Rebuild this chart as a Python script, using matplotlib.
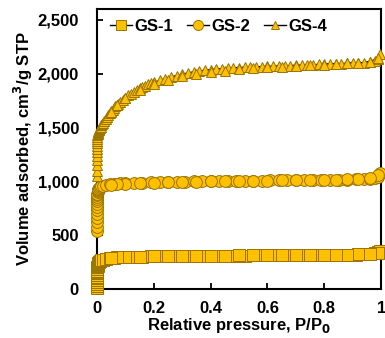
import matplotlib
matplotlib.use("Agg")
import matplotlib.pyplot as plt
from matplotlib.ticker import FuncFormatter

# relative pressure points (adsorption branch) for GS-1 and GS-2
p_ads = [1e-5, 2e-5, 4e-5, 7e-5, 1e-4, 1.5e-4, 2e-4, 3e-4, 4e-4, 5e-4, 7e-4, 1e-3,
         1.5e-3, 2e-3, 3e-3, 4e-3, 5e-3, 7e-3, 0.01, 0.015, 0.02, 0.03, 0.045, 0.06,
         0.08, 0.1, 0.13, 0.16, 0.19, 0.22, 0.25, 0.28, 0.31, 0.34, 0.37, 0.40, 0.43,
         0.46, 0.49, 0.52, 0.55, 0.58, 0.61, 0.64, 0.67, 0.70, 0.73, 0.76, 0.79, 0.82,
         0.85, 0.88, 0.91, 0.94, 0.96, 0.98, 0.99, 0.995]
# desorption branch
p_des = [0.99, 0.96, 0.92, 0.88, 0.84, 0.80, 0.75, 0.70, 0.65, 0.60, 0.55, 0.50,
         0.45, 0.40, 0.35, 0.30, 0.25, 0.20, 0.15, 0.10, 0.07, 0.05]

gs1_ads = [10, 25, 45, 65, 85, 100, 115, 130, 145, 155, 170, 185, 200, 210, 222, 232,
           240, 250, 258, 266, 272, 280, 287, 291, 294, 297, 299, 301, 302, 303, 304,
           305, 306, 307, 308, 308, 309, 310, 310, 311, 312, 312, 313, 314, 314, 315,
           316, 316, 317, 318, 318, 319, 320, 322, 325, 330, 340, 355]
gs1_des = [338, 326, 322, 320, 319, 318, 317, 316, 315, 314, 313, 312, 311, 310, 309,
           307, 305, 303, 300, 297, 294, 291]

gs2_ads = [540, 580, 620, 660, 700, 730, 760, 790, 815, 835, 855, 870, 885, 897, 910,
           920, 928, 937, 945, 953, 958, 965, 972, 977, 981, 984, 987, 989, 991, 993,
           995, 996, 998, 999, 1000, 1001, 1002, 1003, 1004, 1005, 1006, 1007, 1008,
           1009, 1010, 1011, 1012, 1013, 1014, 1015, 1016, 1017, 1019, 1021, 1024,
           1030, 1045, 1080]
gs2_des = [1060, 1028, 1022, 1019, 1017, 1015, 1013, 1011, 1009, 1007, 1005, 1003,
           1001, 999, 997, 995, 992, 989, 985, 980, 975, 970]

# GS-4 was measured on a finer pressure grid
p4_ads = [1e-5, 2e-5, 4e-5, 7e-5, 1e-4, 1.5e-4, 2e-4, 3e-4, 4e-4, 5e-4, 7e-4, 1e-3,
          1.5e-3, 2e-3, 3e-3, 4e-3, 5e-3, 6e-3, 7e-3, 8.5e-3, 0.01, 0.0125, 0.015,
          0.0175, 0.02, 0.025, 0.03, 0.035, 0.04, 0.045, 0.05, 0.055, 0.06, 0.065,
          0.07, 0.075, 0.08, 0.09, 0.10, 0.11, 0.12, 0.13, 0.14, 0.15, 0.16, 0.17,
          0.18, 0.19, 0.20, 0.22, 0.24, 0.26, 0.28, 0.30, 0.32, 0.34, 0.36, 0.38,
          0.40, 0.42, 0.44, 0.46, 0.48, 0.50, 0.52, 0.54, 0.56, 0.58, 0.60, 0.62,
          0.64, 0.66, 0.68, 0.70, 0.72, 0.74, 0.76, 0.78, 0.80, 0.82, 0.84, 0.86,
          0.88, 0.90, 0.92, 0.94, 0.96, 0.98, 0.99, 0.995]
gs4_ads = [1050, 1100, 1150, 1195, 1235, 1270, 1300, 1330, 1355, 1375, 1395, 1412,
           1428, 1440, 1452, 1460, 1467, 1473, 1479, 1487, 1495, 1507, 1519, 1530,
           1541, 1562, 1582, 1601, 1619, 1636, 1652, 1667, 1682, 1696, 1709, 1722,
           1734, 1757, 1778, 1798, 1816, 1833, 1849, 1864, 1877, 1889, 1900, 1910,
           1919, 1937, 1954, 1969, 1983, 1996, 2007, 2017, 2025, 2032, 2038, 2043,
           2047, 2051, 2054, 2057, 2060, 2062, 2064, 2066, 2068, 2070, 2072, 2074,
           2076, 2078, 2080, 2082, 2084, 2086, 2088, 2090, 2092, 2094, 2096, 2098,
           2100, 2103, 2107, 2117, 2135, 2180]
p4_des = [0.99, 0.96, 0.92, 0.88, 0.84, 0.80, 0.75, 0.70, 0.65, 0.60, 0.55, 0.50,
          0.45, 0.40, 0.35, 0.30, 0.25, 0.20, 0.15, 0.10, 0.07, 0.05]
gs4_des = [2150, 2110, 2100, 2095, 2090, 2085, 2080, 2073, 2066, 2059, 2050, 2040,
           2028, 2015, 1998, 1975, 1945, 1905, 1850, 1770, 1705, 1640]

labels = ["GS-1", "GS-2", "GS-4"]
markers = ["s", "o", "^"]
sizes = [8.5, 8.5, 7]
fill = "#FFC000"
edge = "#9A7400"

plt.rcParams["font.family"] = ["Liberation Sans", "DejaVu Sans"]
plt.rcParams["font.weight"] = "bold"

fig = plt.figure(figsize=(3.85, 3.38), dpi=100)
ax = fig.add_axes([0.252, 0.145, 0.738, 0.828])

series = [(p_ads + p_des, gs1_ads + gs1_des),
          (p_ads + p_des, gs2_ads + gs2_des),
          (p4_ads + p4_des, gs4_ads + gs4_des)]
for (px, vy), lab, mk, ms in zip(series, labels, markers, sizes):
    ax.plot(px, vy, color="black", lw=1, marker=mk, ms=ms, mfc=fill, mec=edge,
            mew=0.7, label=lab, clip_on=False)

ax.set_xlim(0, 1)
ax.set_ylim(0, 2600)
ax.set_xticks([0, 0.2, 0.4, 0.6, 0.8, 1.0])
ax.set_xticklabels(["0", "0.2", "0.4", "0.6", "0.8", "1"])
ax.set_yticks([0, 500, 1000, 1500, 2000, 2500])
ax.yaxis.set_major_formatter(FuncFormatter(lambda v, _: f"{int(v):,}"))
ax.tick_params(direction="in", length=4, width=1.3, labelsize=12)
ax.tick_params(axis="x", pad=9)
ax.tick_params(axis="y", pad=13)
for s in ax.spines.values():
    s.set_linewidth(1.5)
    s.set_zorder(0.5)

ax.set_xlabel("Relative pressure, P/P$_\\mathbf{0}$", fontsize=12, fontweight="bold", labelpad=0)
ax.set_ylabel("Volume adsorbed, cm$^\\mathbf{3}$/g STP", fontsize=12, fontweight="bold", labelpad=2)

ax.legend(loc="upper left", ncol=3, frameon=False, fontsize=12, handlelength=1.3,
          handletextpad=0.15, columnspacing=0.85, borderaxespad=0.2,
          bbox_to_anchor=(0.01, 1.0), markerscale=0.85)

fig.savefig("out.png", dpi=100)
